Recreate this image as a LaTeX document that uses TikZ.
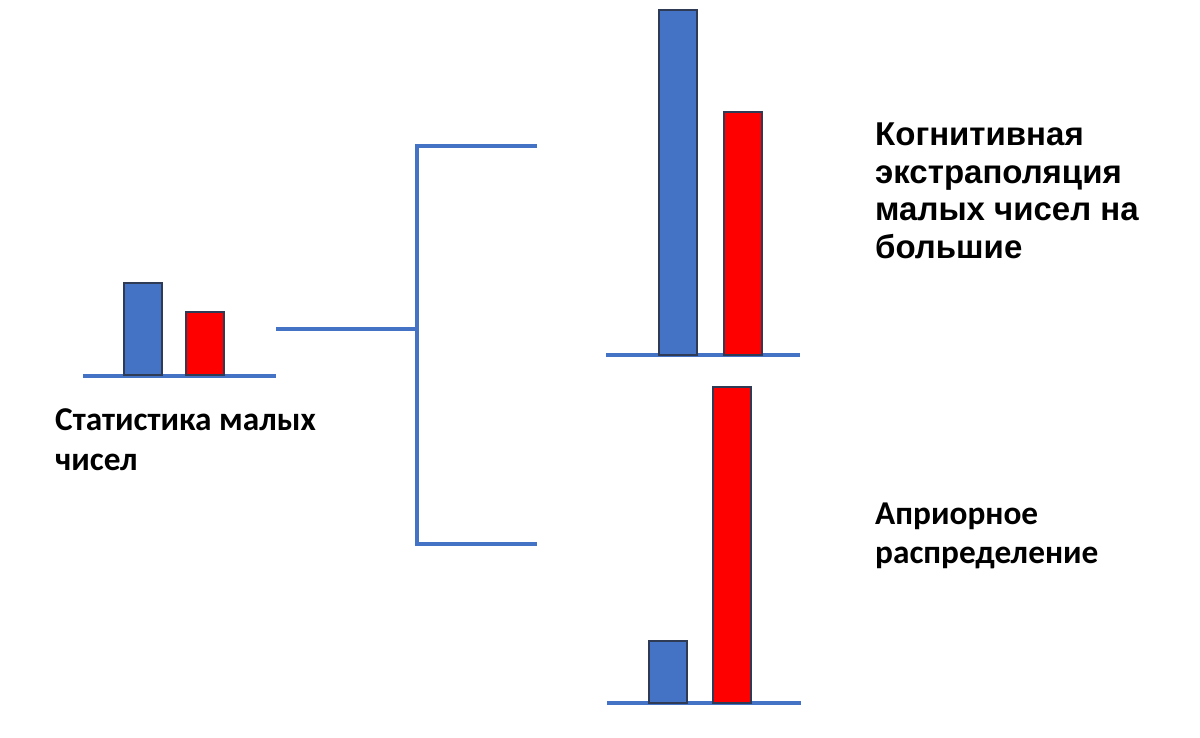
\documentclass[tikz,border=0pt]{standalone}
\usepackage{fontspec}
\newfontfamily\calibrifont{Carlito}
\newfontfamily\arialfont{Liberation Sans}
\definecolor{barblue}{HTML}{4472C4}
\definecolor{barred}{HTML}{FF0000}
\definecolor{edgecol}{HTML}{2F3B55}
\begin{document}
\begin{tikzpicture}[x=1pt,y=-1pt,
  axisline/.style={draw=barblue,line width=4pt},
  bluebar/.style={draw=edgecol,line width=1.5pt,fill=barblue},
  redbar/.style={draw=edgecol,line width=1.5pt,fill=barred},
  calabel/.style={anchor=base west,inner sep=0pt,font=\calibrifont\bfseries\fontsize{33.3}{40}\selectfont},
  arlabel/.style={anchor=base west,inner sep=0pt,font=\arialfont\bfseries\fontsize{33}{38}\selectfont}]
\useasboundingbox (0,0) rectangle (1200,737);
\fill[white] (0,0) rectangle (1200,737);
% left chart
\draw[axisline] (83,376) -- (276,376);
\draw[bluebar] (124,283) rectangle (162,375);
\draw[redbar] (186,312) rectangle (224,375);
% top right chart
\draw[axisline] (606,355) -- (800,355);
\draw[bluebar] (659,10) rectangle (697,355);
\draw[redbar] (724,112) rectangle (762,355);
% bottom right chart
\draw[axisline] (607,703) -- (801,703);
\draw[bluebar] (649,641) rectangle (687,703);
\draw[redbar] (713,387) rectangle (751,703);
% bracket
\coordinate (stub) at (276,329);
\coordinate (junc) at (417,329);
\coordinate (topc) at (417,146);
\coordinate (topend) at (537,146);
\coordinate (botc) at (417,544);
\coordinate (botend) at (537,544);
\draw[axisline] (stub) -- (junc);
\draw[axisline] (topend) -- (topc) -- (botc) -- (botend);
% labels
\node[calabel] (s1) at (55,430) {Статистика малых};
\node[calabel] (s2) at (55,470) {чисел};
\node[arlabel] (k1) at (875,145) {Когнитивная};
\node[arlabel] (k2) at (875,183) {экстраполяция};
\node[arlabel] (k3) at (875,220) {малых чисел на};
\node[arlabel] (k4) at (875,258) {большие};
\node[calabel] (a1) at (875,524) {Априорное};
\node[calabel] (a2) at (875,563) {распределение};
\end{tikzpicture}
\end{document}
